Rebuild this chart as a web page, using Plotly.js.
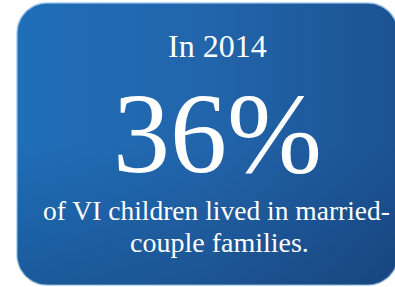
<!DOCTYPE html>
<html>
<head>
<meta charset="utf-8">
<script src="https://cdn.plot.ly/plotly-3.0.1.min.js"></script>
<style>html,body{margin:0;padding:0;background:#fff;}#chart{width:395px;height:287px;}</style>
</head>
<body>
<div id="chart"></div>
<script>
// Content
const yearLabel = "In 2014";
const statValue = 36;
const statUnit = "%";
const captionLines = ["of VI children lived in married-", "couple families."];

// Card geometry (pixels in a 395x287 canvas)
const card = {x0: 17, y0: 3, x1: 398, y1: 285, r: 30};

function roundedRect(c, n) {
  const xs = [], ys = [];
  const corners = [
    [c.x1 - c.r, c.y0 + c.r, -90, 0],
    [c.x1 - c.r, c.y1 - c.r, 0, 90],
    [c.x0 + c.r, c.y1 - c.r, 90, 180],
    [c.x0 + c.r, c.y0 + c.r, 180, 270]
  ];
  corners.forEach(([cx, cy, a0, a1]) => {
    for (let i = 0; i <= n; i++) {
      const a = (a0 + (a1 - a0) * i / n) * Math.PI / 180;
      xs.push(cx + c.r * Math.cos(a));
      ys.push(cy + c.r * Math.sin(a));
    }
  });
  xs.push(xs[0]); ys.push(ys[0]);
  return {xs, ys};
}
const rr = roundedRect(card, 16);

const traces = [
  {
    x: rr.xs, y: rr.ys, mode: 'lines', fill: 'toself',
    line: {color: 'rgba(150,195,235,0.85)', width: 1.5},
    fillgradient: {type: 'horizontal', colorscale: [[0, '#1f6eb8'], [0.5, '#2265ab'], [1, '#1b5292']]},
    hoverinfo: 'skip', showlegend: false
  },
  {
    x: rr.xs, y: rr.ys, mode: 'lines', fill: 'toself',
    line: {width: 0, color: 'rgba(0,0,0,0)'},
    fillgradient: {type: 'vertical', colorscale: [[0, 'rgba(10,32,70,0.25)'], [0.5, 'rgba(10,32,70,0)'], [1, 'rgba(10,32,70,0)']]},
    hoverinfo: 'skip', showlegend: false
  }
];

const serif = 'Georgia, "Liberation Serif", "DejaVu Serif", serif';
const annotations = [
  {x: 217, y: 46, text: yearLabel, font: {family: serif, size: 32, color: '#ffffff'}},
  {x: 217, y: 133, text: statValue + statUnit, font: {family: serif, size: 114, color: '#ffffff'}},
  {x: 216, y: 210, text: captionLines[0], font: {family: serif, size: 27.5, color: '#ffffff'}},
  {x: 219, y: 242, text: captionLines[1], font: {family: serif, size: 28, color: '#ffffff'}}
].map(a => Object.assign({xref: 'x', yref: 'y', showarrow: false, xanchor: 'center', yanchor: 'middle'}, a));

const layout = {
  width: 395, height: 287,
  margin: {l: 0, r: 0, t: 0, b: 0},
  paper_bgcolor: '#ffffff', plot_bgcolor: '#ffffff',
  xaxis: {range: [0, 395], visible: false, fixedrange: true},
  yaxis: {range: [287, 0], visible: false, fixedrange: true},
  annotations: annotations,
  showlegend: false
};

Plotly.newPlot('chart', traces, layout, {displayModeBar: false, staticPlot: true});
</script>
</body>
</html>
